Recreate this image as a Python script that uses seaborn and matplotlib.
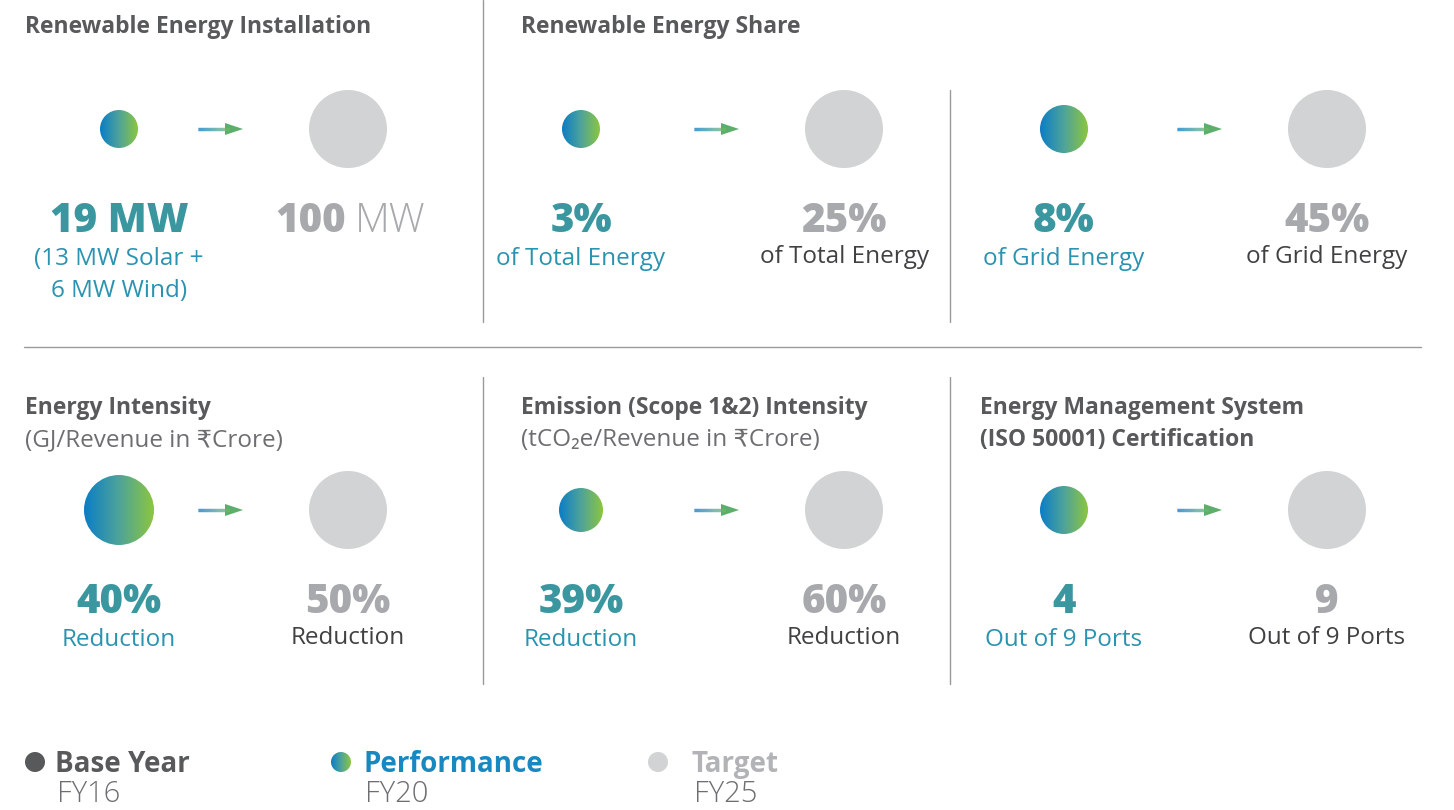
import numpy as np
import pandas as pd
import matplotlib.pyplot as plt
import seaborn as sns
from matplotlib.patches import Circle, Polygon
from matplotlib.collections import LineCollection

sns.set_theme(style='white')
plt.rcParams['font.family'] = ['Open Sans', 'DejaVu Sans']

# panel content
titles = ['Renewable Energy Installation', 'Renewable Energy Share', '',
          'Energy Intensity', 'Emission (Scope 1&2) Intensity',
          'Energy Management System\n(ISO 50001) Certification']
subtitles = ['', '', '', '(GJ/Revenue in ₹Crore)', '(tCO₂e/Revenue in ₹Crore)', '']
perf_values = ['19 MW', '3%', '8%', '40%', '39%', '4']
perf_labels = ['(13 MW Solar +\n6 MW Wind)', 'of Total Energy', 'of Grid Energy',
               'Reduction', 'Reduction', 'Out of 9 Ports']
target_values = ['100', '25%', '45%', '50%', '60%', '9']
target_units = ['MW', '', '', '', '', '']
target_labels = ['', 'of Total Energy', 'of Grid Energy',
                 'Reduction', 'Reduction', 'Out of 9 Ports']
perf_radius = [19, 19, 24, 35, 22, 24]
target_radius = [39, 39, 39, 39, 39, 39]

legend_names = ['Base Year', 'Performance', 'Target']
legend_years = ['FY16', 'FY20', 'FY25']

df = pd.DataFrame({'title': titles, 'sub': subtitles, 'pv': perf_values,
                   'pl': perf_labels, 'tv': target_values, 'tu': target_units,
                   'tl': target_labels, 'pr': perf_radius, 'tr': target_radius})

# layout (pixels)
title_x = [25, 521, 980]
perf_x = [119, 581, 1064]
targ_x = [348, 844, 1327]
arrow_x = [198, 694, 1177]
row_y = [0, 381]

DARK = '#58595b'
TEAL = '#3a97a0'
TEAL_TXT = '#2a93b0'
GREY_NUM = '#a7a9ac'
GREY_CIRC = '#d1d3d4'
LINE = '#9a9a9a'
NUM_SIZE = 29
cmap = sns.blend_palette(['#0a7dc6', '#4ea39a', '#8cc63f'], as_cmap=True)

fig = plt.figure(figsize=(14.54, 8.10), dpi=100)
ax = fig.add_axes([0, 0, 1, 1])
grad = np.linspace(0, 1, 256).reshape(1, -1)


def grad_circle(cx, cy, r):
    circ = Circle((cx, cy), r, transform=ax.transData, facecolor='none', edgecolor='none')
    ax.add_patch(circ)
    im = ax.imshow(grad, cmap=cmap, extent=(cx - r, cx + r, cy + r, cy - r),
                   aspect='auto', interpolation='bilinear', zorder=3)
    im.set_clip_path(circ)


def grad_arrow(x0, x1, y):
    xs = np.linspace(x0, x1 - 14, 60)
    segs = [[(xs[i], y), (xs[i + 1], y)] for i in range(len(xs) - 1)]
    lc = LineCollection(segs, colors=cmap(np.linspace(0, 0.8, len(segs))), linewidths=2.4,
                        capstyle='butt')
    ax.add_collection(lc)
    ax.add_patch(Polygon([(x1 - 18, y - 6), (x1, y), (x1 - 18, y + 6)], closed=True,
                         facecolor='#5cae6a', edgecolor='none'))


for i, row in df.iterrows():
    col = i % 3
    y0 = row_y[i // 3]
    px, tx = perf_x[col], targ_x[col]
    cy = y0 + 129
    for j, line in enumerate(row['title'].split('\n')):
        if line:
            ax.text(title_x[col], y0 + 33 + 32 * j, line, fontsize=16.5, fontweight='bold',
                    color=DARK, ha='left', va='baseline')
    if row['sub']:
        ax.text(title_x[col], y0 + 65, row['sub'], fontsize=17.5, color='#6d6e71',
                ha='left', va='baseline')
    grad_circle(px, cy, row['pr'])
    grad_arrow(arrow_x[col], arrow_x[col] + 45, cy)
    ax.add_patch(Circle((tx, cy), row['tr'], facecolor=GREY_CIRC, edgecolor='none', zorder=3))

    ax.text(px, y0 + 232, row['pv'], fontsize=NUM_SIZE, fontweight='heavy', color=TEAL,
            ha='center', va='baseline')
    for j, line in enumerate(row['pl'].split('\n')):
        ax.text(px, y0 + 265 + 32 * j, line, fontsize=17.5, color=TEAL_TXT,
                ha='center', va='baseline')
    if row['tu']:
        ax.text(tx - 2, y0 + 232, row['tv'], fontsize=NUM_SIZE, fontweight='heavy',
                color=GREY_NUM, ha='right', va='baseline')
        ax.text(tx + 7, y0 + 232, row['tu'], fontsize=NUM_SIZE, fontweight='light',
                color=GREY_NUM, ha='left', va='baseline')
    else:
        ax.text(tx, y0 + 232, row['tv'], fontsize=NUM_SIZE, fontweight='heavy',
                color=GREY_NUM, ha='center', va='baseline')
    if row['tl']:
        ax.text(tx, y0 + 263, row['tl'], fontsize=17.5, color='#414042',
                ha='center', va='baseline')

# divider lines
ax.plot([483, 483], [0, 322], color=LINE, lw=1)
ax.plot([950, 950], [90, 322], color=LINE, lw=1)
ax.plot([24, 1421], [347, 347], color=LINE, lw=1)
ax.plot([483, 483], [377, 684], color=LINE, lw=1)
ax.plot([950, 950], [377, 684], color=LINE, lw=1)

# legend
leg_dot_x = [35, 341, 658]
leg_txt_x = [55, 363, 692]
leg_colors = [DARK, None, GREY_CIRC]
leg_txt_colors = [DARK, '#1888c0', '#b1b3b6']
for k in range(3):
    if leg_colors[k] is None:
        grad_circle(leg_dot_x[k], 762, 10)
    else:
        ax.add_patch(Circle((leg_dot_x[k], 762), 10, facecolor=leg_colors[k],
                            edgecolor='none', zorder=3))
    ax.text(leg_txt_x[k], 772, legend_names[k], fontsize=20, fontweight='bold',
            color=leg_txt_colors[k], ha='left', va='baseline')
    ax.text(leg_txt_x[k] + 2, 809, legend_years[k], fontsize=21, fontweight='light',
            color='#6d6e71', ha='left', va='bottom')

ax.set_xlim(0, 1454)
ax.set_ylim(810, 0)
ax.axis('off')
fig.savefig('out.png', dpi=100, facecolor='white')
